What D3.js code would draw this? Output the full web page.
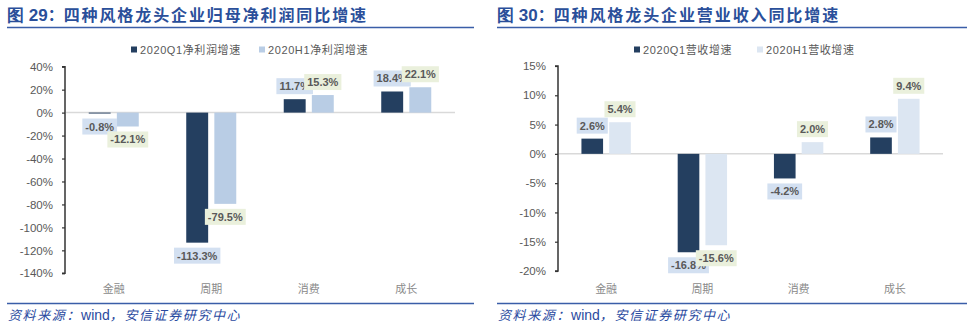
<!DOCTYPE html>
<html><head><meta charset="utf-8">
<script src="https://cdn.jsdelivr.net/npm/d3@7"></script>
<style>
html,body{margin:0;padding:0;background:#fff;}
svg{display:block;}
</style></head>
<body>
<svg id="c" width="971" height="335"></svg>
<script>
// ---- data ----
const categories = ['金融', '周期', '消费', '成长'];
const seriesNamesLeft = ['2020Q1净利润增速', '2020H1净利润增速'];
const profitQ1 = [-0.8, -113.3, 11.7, 18.4];
const profitH1 = [-12.1, -79.5, 15.3, 22.1];
const seriesNamesRight = ['2020Q1营收增速', '2020H1营收增速'];
const revenueQ1 = [2.6, -16.8, -4.2, 2.8];
const revenueH1 = [5.4, -15.6, 2.0, 9.4];
const ticksLeft = [40, 20, 0, -20, -40, -60, -80, -100, -120, -140];
const ticksRight = [15, 10, 5, 0, -5, -10, -15, -20];
const titleLeft = ['图 29：', '四种风格龙头企业归母净利润同比增速'];
const titleRight = ['图 30：', '四种风格龙头企业营业收入同比增速'];

const svg = d3.select('#c');
const DARK = '#243f60';
const BOX1 = '#d3e0f1', BOX2 = '#eaf0dc';
const TXT = '#595959';
const BLUE = '#2a4f9a';

function panel(cfg) {
  const g = svg.append('g');
  // title
  const t = g.append('text').attr('x', cfg.left).attr('y', 21)
    .attr('font-family', '"Noto Sans CJK SC", sans-serif').attr('font-weight', 'bold')
    .attr('font-size', 16).attr('fill', BLUE);
  t.append('tspan').attr('font-family', '"Liberation Sans", Arial, sans-serif').attr('font-size', 17).text(cfg.title[0].replace('：',''));
  t.append('tspan').text('：');
  t.append('tspan').attr('letter-spacing', 1.9).text(cfg.title[1]);
  g.append('line').attr('x1', cfg.left).attr('x2', cfg.right).attr('y1', 27.5).attr('y2', 27.5)
    .attr('stroke', '#3a5ea8').attr('stroke-width', 1.5);

  // footer
  g.append('line').attr('x1', cfg.left).attr('x2', cfg.right).attr('y1', 303.5).attr('y2', 303.5)
    .attr('stroke', '#3a5ea8').attr('stroke-width', 1.5);
  const f = g.append('text').attr('x', cfg.left + 1).attr('y', 320)
    .attr('font-size', 13).attr('fill', '#2a4aa0').attr('font-family', '"Noto Sans CJK SC", sans-serif');
  f.append('tspan').attr('font-style', 'italic').attr('letter-spacing', 1.6).text('资料来源：');
  f.append('tspan').attr('font-family', '"Liberation Sans", Arial, sans-serif').attr('font-size', 14).text('wind');
  f.append('tspan').attr('font-style', 'italic').attr('letter-spacing', 1.6).text('，安信证券研究中心');

  // scales
  const y = d3.scaleLinear().domain(cfg.domain).range(cfg.yRange);
  const x = d3.scaleBand().domain(categories).range(cfg.xRange).paddingInner(0.487).paddingOuter(0.2435);
  const xs = d3.scaleBand().domain([0, 1]).range([0, x.bandwidth()]).paddingInner(0.22);
  const colors = [DARK, cfg.light];

  // legend
  cfg.names.forEach((n, i) => {
    const lx = cfg.legendX[i];
    g.append('rect').attr('x', lx).attr('y', 46.5).attr('width', 6).attr('height', 6).attr('fill', colors[i]);
    g.append('text').attr('x', lx + 9).attr('y', 54).attr('font-size', 11).attr('fill', TXT)
      .attr('letter-spacing', 0.6)
      .attr('font-family', '"Liberation Sans", "Noto Sans CJK SC", sans-serif').text(n);
  });

  // y axis
  const ax = g.append('g').attr('transform', `translate(${cfg.xRange[0]},0)`)
    .call(d3.axisLeft(y).tickValues(cfg.ticks).tickSize(3).tickPadding(9).tickFormat(d => d + '%'));
  ax.select('.domain').attr('stroke', '#333').attr('stroke-width', 1.5).attr('d', `M-3,${cfg.yRange[1]}H0V${cfg.yRange[0]}H-3`);
  ax.selectAll('.tick line').attr('stroke', '#333').attr('stroke-width', 1.2);
  ax.selectAll('.tick text').attr('fill', TXT).attr('font-size', 11.5)
    .attr('font-family', '"Liberation Sans", Arial, sans-serif');

  // zero line
  g.append('line').attr('x1', cfg.xRange[0] + 1).attr('x2', cfg.xRange[1]).attr('y1', y(0)).attr('y2', y(0))
    .attr('stroke', '#d9d9d9').attr('stroke-width', 1.5);

  // category labels
  g.selectAll('text.cat').data(categories).join('text').attr('class', 'cat')
    .attr('x', d => x(d) + x.bandwidth() / 2).attr('y', 293).attr('text-anchor', 'middle')
    .attr('font-size', 11).attr('fill', '#8a8a8a').attr('font-family', '"Noto Sans CJK SC", sans-serif')
    .text(d => d);

  // bars
  cfg.series.forEach((vals, si) => {
    g.selectAll(null).data(vals).join('rect')
      .attr('x', (d, i) => x(categories[i]) + xs(si))
      .attr('width', xs.bandwidth())
      .attr('y', d => y(Math.max(0, d)))
      .attr('height', d => Math.abs(y(d) - y(0)))
      .attr('fill', colors[si]);
  });

  // labels (Q1 first, then H1 on top)
  cfg.series.forEach((vals, si) => {
    vals.forEach((d, i) => {
      const cx = x(categories[i]) + xs(si) + xs.bandwidth() / 2;
      const lg = g.append('g');
      const rect = lg.append('rect').attr('fill', si === 0 ? BOX1 : BOX2);
      const txt = lg.append('text').attr('x', cx).attr('text-anchor', 'middle')
        .attr('font-size', 11).attr('font-weight', 'bold').attr('fill', TXT)
        .attr('font-family', '"Liberation Sans", Arial, sans-serif')
        .text(d.toFixed(1) + '%');
      const w = txt.node().getComputedTextLength() + 6;
      const h = 16;
      const top = d >= 0 ? y(d) - 5 - h : y(d) + 5;
      rect.attr('x', cx - w / 2).attr('y', top).attr('width', w).attr('height', h);
      txt.attr('y', top + 12);
    });
  });
}

panel({
  left: 7, right: 474, title: titleLeft, names: seriesNamesLeft,
  domain: [-140, 40], yRange: [273.3, 66.7], xRange: [65, 455], ticks: ticksLeft,
  series: [profitQ1, profitH1], light: '#b9cde5', legendX: [131, 259]
});
panel({
  left: 497, right: 967, title: titleRight, names: seriesNamesRight,
  domain: [-20, 15], yRange: [271, 66], xRange: [558, 943], ticks: ticksRight,
  series: [revenueQ1, revenueH1], light: '#dce6f2', legendX: [634, 757]
});
</script>
</body></html>
